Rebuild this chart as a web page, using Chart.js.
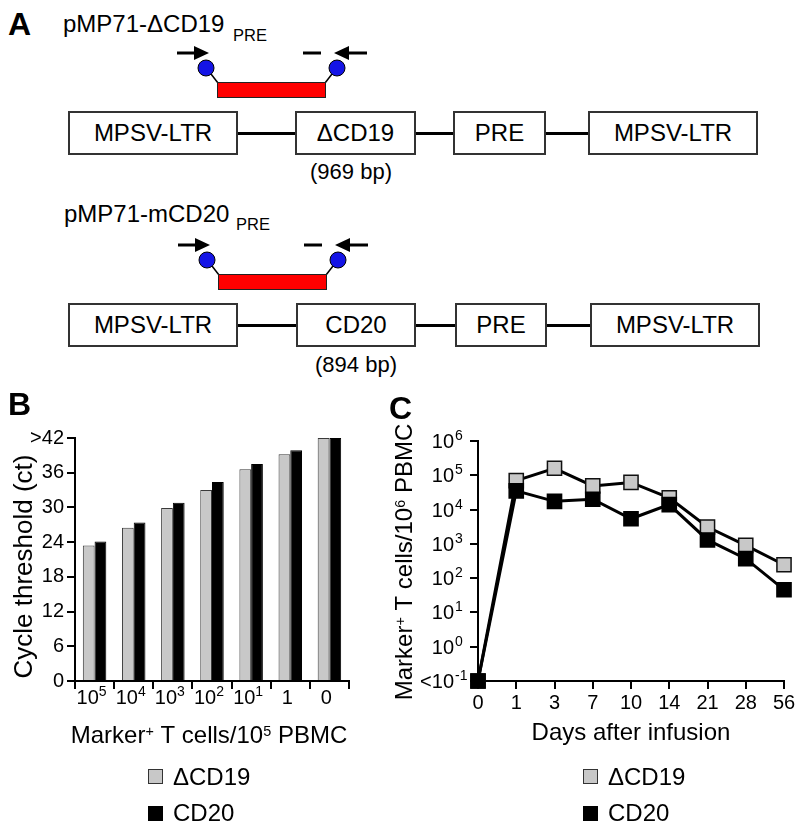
<!DOCTYPE html>
<html><head><meta charset="utf-8">
<script src="https://cdn.jsdelivr.net/npm/chart.js@4.4.1/dist/chart.umd.min.js"></script>
<style>
html,body{margin:0;padding:0;background:#fff;}
#fig{position:relative;width:800px;height:828px;overflow:hidden;font-family:'Liberation Sans',Arial,Helvetica,sans-serif;color:#000;background:#fff;}
.t{position:absolute;white-space:nowrap;line-height:1;}
.box{position:absolute;box-sizing:border-box;border:2px solid #333;display:flex;align-items:center;justify-content:center;font-size:24px;line-height:1;background:#fff;}
.hl{position:absolute;height:3px;background:#000;}
.lbl{position:absolute;font-weight:bold;font-size:32px;line-height:1;}
.sq{position:absolute;width:15px;height:15px;box-sizing:border-box;border:1px solid #333;}
canvas{position:absolute;}
</style></head>
<body>
<div id="fig">
  <!-- Panel A -->
  <div class="lbl" style="left:8px;top:8px;">A</div>
  <div class="t" style="left:63px;top:12px;font-size:24px;">pMP71-ΔCD19</div>
  <div class="t" style="left:233px;top:27px;font-size:16.5px;">PRE</div>
  <div class="t" style="left:64px;top:202px;font-size:24px;">pMP71-mCD20</div>
  <div class="t" style="left:236px;top:216px;font-size:16.5px;">PRE</div>

  <svg width="800" height="400" style="position:absolute;left:0;top:0">
    <g id="prim1">
      <line x1="177" y1="53" x2="197" y2="53" stroke="#000" stroke-width="3"/>
      <polygon points="194,46 209,53 194,60" fill="#000"/>
      <line x1="303" y1="53" x2="321" y2="53" stroke="#000" stroke-width="3"/>
      <polygon points="349,46 334,53 349,60" fill="#000"/>
      <line x1="347" y1="53" x2="367" y2="53" stroke="#000" stroke-width="3"/>
      <line x1="211" y1="74" x2="218" y2="83" stroke="#000" stroke-width="1.5"/>
      <line x1="332" y1="74" x2="325" y2="83" stroke="#000" stroke-width="1.5"/>
      <circle cx="206" cy="68" r="8" fill="#1414e6" stroke="#000" stroke-width="1"/>
      <circle cx="337" cy="68" r="8" fill="#1414e6" stroke="#000" stroke-width="1"/>
      <rect x="217.5" y="82.5" width="108" height="15" fill="#ff0000" stroke="#222" stroke-width="1"/>
    </g>
    <use href="#prim1" transform="translate(1,192)"/>
  </svg>

  <div class="hl" style="left:238px;top:132px;width:57px;"></div>
  <div class="hl" style="left:416px;top:132px;width:37px;"></div>
  <div class="hl" style="left:546px;top:132px;width:42px;"></div>
  <div class="box" style="left:68px;top:111px;width:170px;height:44px;">MPSV-LTR</div>
  <div class="box" style="left:295px;top:111px;width:121px;height:44px;">ΔCD19</div>
  <div class="box" style="left:453px;top:111px;width:93px;height:44px;">PRE</div>
  <div class="box" style="left:588px;top:111px;width:170px;height:44px;">MPSV-LTR</div>
  <div class="t" style="left:251px;top:161px;width:200px;text-align:center;font-size:22px;">(969 bp)</div>

  <div class="hl" style="left:238px;top:324px;width:58px;"></div>
  <div class="hl" style="left:416px;top:324px;width:39px;"></div>
  <div class="hl" style="left:547px;top:324px;width:44px;"></div>
  <div class="box" style="left:68px;top:303px;width:170px;height:44px;">MPSV-LTR</div>
  <div class="box" style="left:296px;top:303px;width:120px;height:44px;">CD20</div>
  <div class="box" style="left:455px;top:303px;width:92px;height:44px;">PRE</div>
  <div class="box" style="left:590px;top:303px;width:170px;height:44px;">MPSV-LTR</div>
  <div class="t" style="left:256px;top:354px;width:200px;text-align:center;font-size:22px;">(894 bp)</div>

  <!-- Panel B / C charts -->
  <canvas id="chartB" width="370" height="448" style="left:0;top:380px;"></canvas>
  <canvas id="chartC" width="430" height="448" style="left:370px;top:380px;"></canvas>
  <div class="lbl" style="left:8px;top:388px;">B</div>
  <div class="lbl" style="left:389px;top:392px;">C</div>

  <!-- Legends -->
  <div class="sq" style="left:148px;top:769px;background:#c8c8c8;"></div>
  <div class="t" style="left:173px;top:765px;font-size:24px;" id="lgB0"></div>
  <div class="sq" style="left:148px;top:806px;background:#000;border-color:#000;"></div>
  <div class="t" style="left:173px;top:801px;font-size:24px;" id="lgB1"></div>
  <div class="sq" style="left:583px;top:769px;background:#c8c8c8;"></div>
  <div class="t" style="left:608px;top:765px;font-size:24px;" id="lgC0"></div>
  <div class="sq" style="left:583px;top:806px;background:#000;border-color:#000;"></div>
  <div class="t" style="left:608px;top:801px;font-size:24px;" id="lgC1"></div>
</div>

<script>
// ---------- data ----------
const seriesNames = ['ΔCD19', 'CD20'];

// Panel B
const bCategories = ['10^5', '10^4', '10^3', '10^2', '10^1', '1', '0'];
const bTickBase = ['10', '10', '10', '10', '10', '1', '0'];
const bTickExp = ['5', '4', '3', '2', '1', '', ''];
const ctDeltaCD19 = [23.4, 26.5, 29.9, 33.0, 36.6, 39.2, 42];
const ctCD20 = [24.1, 27.4, 30.8, 34.4, 37.5, 39.9, 42];
const ctTicks = [0, 6, 12, 18, 24, 30, 36, 42];
const ctTickLabels = ['0', '6', '12', '18', '24', '30', '36', '>42'];

// Panel C
const days = ['0', '1', '3', '7', '10', '14', '21', '28', '56'];
const cellsDeltaCD19 = [0.1, 70000, 160000, 49000, 62000, 22000, 3100, 900, 246];
const cellsCD20 = [0.1, 35000, 17400, 20000, 5400, 14000, 1300, 370, 46];
const logTicks = [0.1, 1, 10, 100, 1000, 10000, 100000, 1000000];
const logTickBase = ['<10', '10', '10', '10', '10', '10', '10', '10'];
const logTickExp = ['-1', '0', '1', '2', '3', '4', '5', '6'];

const GRAY = '#c8c8c8';
const FAM = "'Liberation Sans', Arial, Helvetica, sans-serif";

document.getElementById('lgB0').textContent = seriesNames[0];
document.getElementById('lgB1').textContent = seriesNames[1];
document.getElementById('lgC0').textContent = seriesNames[0];
document.getElementById('lgC1').textContent = seriesNames[1];

function drawRich(ctx, parts, x, y, size, align, supScale, supRaise) {
  const bf = size + 'px ' + FAM, sf = (size * supScale) + 'px ' + FAM;
  let w = 0; const ws = [];
  for (const [t, s] of parts) { ctx.font = s ? sf : bf; const m = ctx.measureText(t).width; ws.push(m); w += m; }
  let cx = align === 'center' ? x - w / 2 : (align === 'right' ? x - w : x);
  ctx.textAlign = 'left'; ctx.textBaseline = 'alphabetic';
  parts.forEach(([t, s], i) => { ctx.font = s ? sf : bf; ctx.fillText(t, cx, s ? y - size * supRaise : y); cx += ws[i]; });
}

const axisGrid = { display: true, drawOnChartArea: false, color: '#000', lineWidth: 2, tickLength: 8 };
const axisBorder = { display: true, color: '#000', width: 2 };

// ---------- Chart B ----------
const bText = {
  id: 'bText',
  afterDraw(chart) {
    const ctx = chart.ctx, xs = chart.scales.x, ys = chart.scales.y;
    ctx.save();
    ctx.fillStyle = '#000';
    for (let i = 0; i < bCategories.length; i++) {
      const parts = [[bTickBase[i], 0]];
      if (bTickExp[i]) parts.push([bTickExp[i], 1]);
      drawRich(ctx, parts, xs.getPixelForValue(i) - 3, ys.bottom + 23, 20, 'center', 0.7, 0.42);
    }
    drawRich(ctx, [['Marker', 0], ['+', 1], [' T cells/10', 0], ['5', 1], [' PBMC', 0]],
      (xs.left + xs.right) / 2 - 3, ys.bottom + 62, 24, 'center', 0.6, 0.28);
    ctx.translate(32, (ys.top + ys.bottom) / 2 + 7);
    ctx.rotate(-Math.PI / 2);
    drawRich(ctx, [['Cycle threshold (ct)', 0]], 0, 0, 26, 'center', 0.6, 0.3);
    ctx.restore();
  }
};

new Chart(document.getElementById('chartB'), {
  type: 'bar',
  data: {
    labels: bCategories,
    datasets: [
      { label: seriesNames[0], data: ctDeltaCD19, backgroundColor: GRAY, borderColor: '#3a3a3a', borderWidth: 1, categoryPercentage: 0.6, barPercentage: 1.0 },
      { label: seriesNames[1], data: ctCD20, backgroundColor: '#000', borderColor: '#000', borderWidth: 1, categoryPercentage: 0.6, barPercentage: 1.0 }
    ]
  },
  options: {
    responsive: false, animation: false, devicePixelRatio: 1,
    layout: { padding: { left: 0, right: 21, top: 58, bottom: 0 } },
    plugins: { legend: { display: false }, tooltip: { enabled: false } },
    scales: {
      x: {
        grid: Object.assign({}, axisGrid, { offset: true }),
        border: axisBorder,
        ticks: { display: false },
        afterFit(s) { s.height = 147; }
      },
      y: {
        min: 0, max: 42,
        afterBuildTicks(s) { s.ticks = ctTicks.map(v => ({ value: v })); },
        ticks: {
          callback: (v) => ctTickLabels[ctTicks.indexOf(v)],
          font: { size: 20, family: FAM }, color: '#000', padding: 3
        },
        grid: axisGrid,
        border: axisBorder,
        afterFit(s) { s.width = 75; }
      }
    }
  },
  plugins: [bText]
});

// ---------- Chart C ----------
const cText = {
  id: 'cText',
  afterDraw(chart) {
    const ctx = chart.ctx, xs = chart.scales.x, ys = chart.scales.y;
    ctx.save();
    ctx.fillStyle = '#000';
    ctx.font = '20px ' + FAM; ctx.textAlign = 'center'; ctx.textBaseline = 'alphabetic';
    days.forEach((d, i) => ctx.fillText(d, xs.getPixelForValue(i), ys.bottom + 28));
    logTicks.forEach((v, i) => {
      const y = ys.getPixelForValue(v);
      const bx = xs.left - 24;
      ctx.font = '20px ' + FAM; ctx.textAlign = 'right';
      ctx.fillText(logTickBase[i], bx, y + 7);
      ctx.font = '14px ' + FAM; ctx.textAlign = 'left';
      ctx.fillText(logTickExp[i], bx + 1, y + 7 - 8);
    });
    drawRich(ctx, [['Days after infusion', 0]], (xs.left + xs.right) / 2, ys.bottom + 59, 24, 'center', 0.6, 0.3);
    ctx.translate(42, (ys.top + ys.bottom) / 2 + 1);
    ctx.rotate(-Math.PI / 2);
    drawRich(ctx, [['Marker', 0], ['+', 1], [' T cells/10', 0], ['6', 1], [' PBMC', 0]], 0, 0, 24, 'center', 0.6, 0.28);
    ctx.restore();
  }
};

new Chart(document.getElementById('chartC'), {
  type: 'line',
  data: {
    labels: days,
    datasets: [
      { label: seriesNames[0], data: cellsDeltaCD19, borderColor: '#000', borderWidth: 3, tension: 0,
        pointStyle: 'rect', pointRadius: 10, pointBackgroundColor: GRAY, pointBorderColor: '#111', pointBorderWidth: 1.5, order: 2, clip: false },
      { label: seriesNames[1], data: cellsCD20, borderColor: '#000', borderWidth: 3, tension: 0,
        pointStyle: 'rect', pointRadius: 10, pointBackgroundColor: '#000', pointBorderColor: '#000', pointBorderWidth: 1.5, order: 1, clip: false }
    ]
  },
  options: {
    responsive: false, animation: false, devicePixelRatio: 1,
    layout: { padding: { left: 0, right: 16, top: 61, bottom: 0 } },
    plugins: { legend: { display: false }, tooltip: { enabled: false } },
    scales: {
      x: {
        offset: false,
        grid: Object.assign({}, axisGrid, { offset: false }),
        border: axisBorder,
        ticks: { display: false },
        afterFit(s) { s.height = 147; }
      },
      y: {
        type: 'logarithmic', min: 0.1, max: 1000000,
        afterBuildTicks(s) { s.ticks = logTicks.map(v => ({ value: v })); },
        ticks: { display: false },
        grid: axisGrid,
        border: axisBorder,
        afterFit(s) { s.width = 108; }
      }
    }
  },
  plugins: [cText]
});
</script>
</body></html>
